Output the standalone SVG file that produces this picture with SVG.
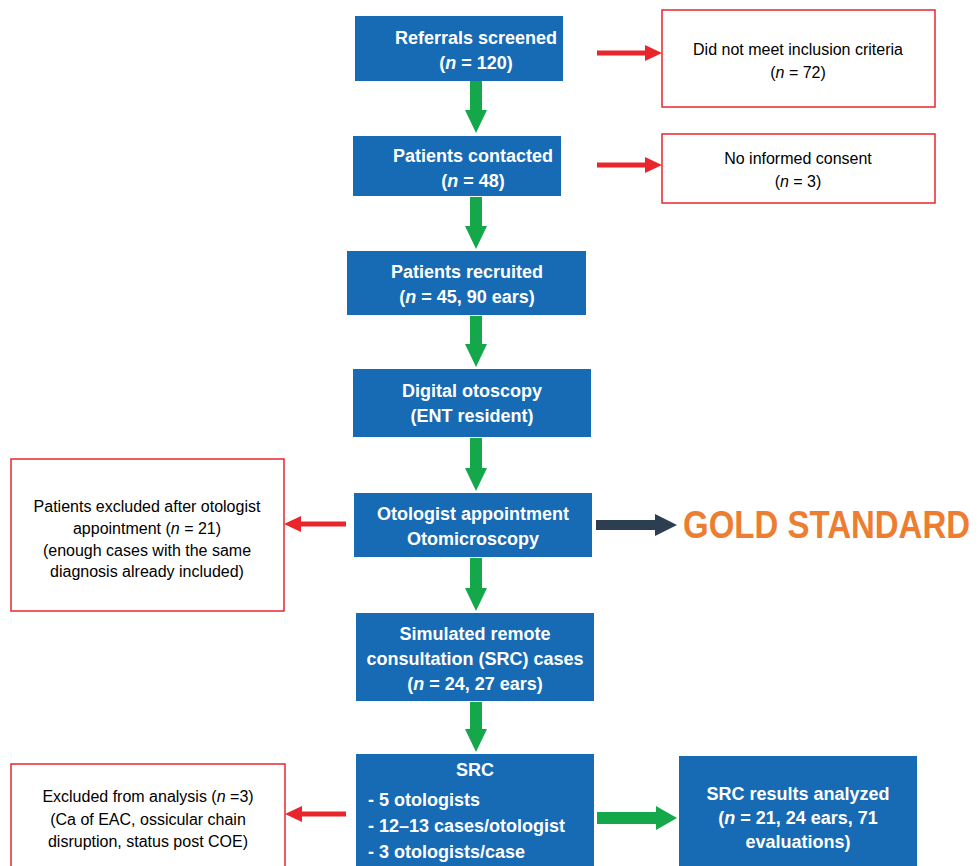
<svg xmlns="http://www.w3.org/2000/svg" width="979" height="866" viewBox="0 0 979 866">
<style>
.bx{fill:#176BB5;}
.rb{fill:#fff;stroke:#E8262C;stroke-width:1.5;}
.bt{font-family:"Liberation Sans",sans-serif;font-weight:bold;font-size:18px;fill:#fff;}
.c{text-anchor:middle;}
.rt{font-family:"Liberation Sans",sans-serif;font-size:16px;fill:#000;text-anchor:middle;}
.g{fill:#14A84B;}
.r{fill:#E8262C;}
</style>
<rect width="979" height="866" fill="#fff"/>
<g id="connectors">
<polygon class="g" points="470,81 482,81 482,110 487,110 476,133 465,110 470,110"/>
<polygon class="g" points="470,197 482,197 482,226 487,226 476,249 465,226 470,226"/>
<polygon class="g" points="470,316 482,316 482,344 487,344 476,367 465,344 470,344"/>
<polygon class="g" points="470,438 482,438 482,468 487,468 476,491 465,468 470,468"/>
<polygon class="g" points="470,558 482,558 482,588 487,588 476,611 465,588 470,588"/>
<polygon class="g" points="470,702 482,702 482,729 487,729 476,752 465,729 470,729"/>
<polygon class="r" points="597,50.5 645,50.5 645,45 662,53 645,61 645,55.5 597,55.5"/>
<polygon class="r" points="597,162.5 645,162.5 645,157 662,165 645,173 645,167.5 597,167.5"/>
<polygon class="r" points="346,521.5 301,521.5 301,516 284,524 301,532 301,526.5 346,526.5"/>
<polygon class="r" points="346,811.5 302,811.5 302,806 285,814 302,822 302,816.5 346,816.5"/>
<polygon fill="#2E3E51" points="596,520 655,520 655,514 677,525 655,536 655,530 596,530"/>
<polygon class="g" points="597,812 656,812 656,806 677,818 656,830 656,824 597,824"/>
</g>
<g id="n1"><rect class="bx" x="355" y="16" width="208" height="65"/><text class="bt c" x="476" y="44">Referrals screened</text><text class="bt c" x="476" y="69">(<tspan font-style="italic">n</tspan> = 120)</text></g>
<g id="n2"><rect class="bx" x="353" y="136" width="208" height="60"/><text class="bt c" x="473" y="162">Patients contacted</text><text class="bt c" x="473" y="187">(<tspan font-style="italic">n</tspan> = 48)</text></g>
<g id="n3"><rect class="bx" x="347" y="251" width="239" height="64"/><text class="bt c" x="467" y="278">Patients recruited</text><text class="bt c" x="467" y="303">(<tspan font-style="italic">n</tspan> = 45, 90 ears)</text></g>
<g id="n4"><rect class="bx" x="353" y="369" width="238" height="68"/><text class="bt c" x="472" y="397">Digital otoscopy</text><text class="bt c" x="472" y="422">(ENT resident)</text></g>
<g id="n5"><rect class="bx" x="354" y="493" width="238" height="64"/><text class="bt c" x="473" y="520">Otologist appointment</text><text class="bt c" x="473" y="545">Otomicroscopy</text></g>
<g id="n6"><rect class="bx" x="356" y="613" width="238" height="88"/><text class="bt c" x="475" y="640">Simulated remote</text><text class="bt c" x="475" y="665">consultation (SRC) cases</text><text class="bt c" x="475" y="690">(<tspan font-style="italic">n</tspan> = 24, 27 ears)</text></g>
<g id="n7"><rect class="bx" x="356" y="754" width="238" height="112"/><text class="bt c" x="475" y="776">SRC</text><text class="bt" x="368" y="806">- 5 otologists</text><text class="bt" x="368" y="832">- 12–13 cases/otologist</text><text class="bt" x="368" y="858">- 3 otologists/case</text></g>
<g id="n8"><rect class="bx" x="679" y="756" width="238" height="110"/><text class="bt c" x="798" y="800">SRC results analyzed</text><text class="bt c" x="798" y="824">(<tspan font-style="italic">n</tspan> = 21, 24 ears, 71</text><text class="bt c" x="798" y="848">evaluations)</text></g>
<g id="e1"><rect class="rb" x="662" y="10" width="273" height="97"/><text class="rt" x="798" y="55">Did not meet inclusion criteria</text><text class="rt" x="798" y="78">(<tspan font-style="italic">n</tspan> = 72)</text></g>
<g id="e2"><rect class="rb" x="662" y="134" width="273" height="69"/><text class="rt" x="798" y="164">No informed consent</text><text class="rt" x="798" y="187">(<tspan font-style="italic">n</tspan> = 3)</text></g>
<g id="e3"><rect class="rb" x="11" y="459" width="273" height="152"/><text class="rt" x="147" y="512">Patients excluded after otologist</text><text class="rt" x="147" y="534">appointment (<tspan font-style="italic">n</tspan> = 21)</text><text class="rt" x="147" y="556">(enough cases with the same</text><text class="rt" x="147" y="577">diagnosis already included)</text></g>
<g id="e4"><rect class="rb" x="11" y="764" width="274" height="110"/><text class="rt" x="148" y="802">Excluded from analysis (<tspan font-style="italic">n</tspan> =3)</text><text class="rt" x="148" y="825">(Ca of EAC, ossicular chain</text><text class="rt" x="148" y="847">disruption, status post COE)</text></g>
<g id="gold"><text transform="translate(683,538) scale(1,1.18)" x="0" y="0" font-family="'Liberation Sans',sans-serif" font-weight="bold" font-size="33" fill="#ED7D31">GOLD STANDARD</text></g>
</svg>
